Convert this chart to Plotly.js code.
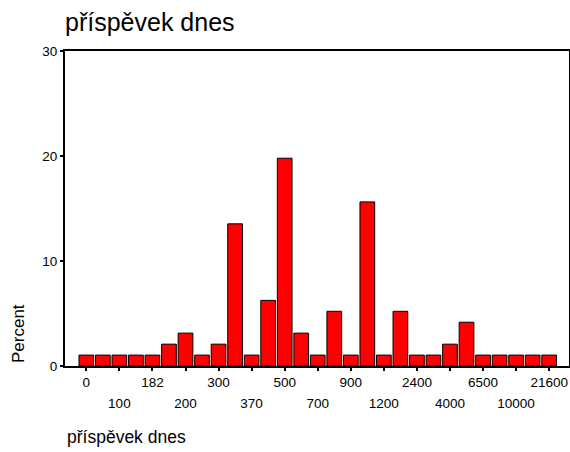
<!DOCTYPE html>
<html>
<head>
<meta charset="utf-8">
<script src="https://cdn.plot.ly/plotly-3.0.1.min.js"></script>
<style>html,body{margin:0;padding:0;background:#fff;}#chart{width:570px;height:452px;}</style>
</head>
<body>
<div id="chart"></div>
<script>
// Categories (values of "příspěvek dnes"); unlabeled ones are estimates
const categories = ["0","50","100","150","182","190","200","250","300","350","370","400","500","600","700","800","900","1000","1200","2000","2400","3000","4000","5000","6500","8000","10000","20000","21600"];
// Percent of cases per category
const percents = [1.04,1.04,1.04,1.04,1.04,2.08,3.13,1.04,2.08,13.54,1.04,6.25,19.79,3.13,1.04,5.21,1.04,15.63,1.04,5.21,1.04,1.04,2.08,4.17,1.04,1.04,1.04,1.04,1.04];
// Tick labels: first row and second row
const tickRow1 = ["0","182","300","500","900","2400","6500","21600"];
const tickRow2 = ["100","200","370","700","1200","4000","10000"];

const row1Vals = tickRow1.slice();
const row2Vals = tickRow2.slice();
const allTickVals = [];
const allTickText = [];
for (let i = 0; i < row1Vals.length; i++) {
  allTickVals.push(row1Vals[i]); allTickText.push(tickRow1[i]);
  if (i < row2Vals.length) { allTickVals.push(row2Vals[i]); allTickText.push(""); }
}

const font = "Liberation Sans, Arial, sans-serif";
const trace = {
  type: "bar", x: categories, y: percents,
  marker: {color: "#FF0000", line: {color: "#000000", width: 1}},
  hoverinfo: "x+y"
};
const trace2 = {
  type: "bar", x: categories, y: percents, xaxis: "x2",
  marker: {color: "rgba(0,0,0,0)"}, hoverinfo: "skip", showlegend: false
};
const xr = [-1.29, 29.2];
const layout = {
  width: 570, height: 452,
  margin: {l: 65, r: 1, t: 51, b: 86},
  paper_bgcolor: "#fff", plot_bgcolor: "#fff",
  showlegend: false, bargap: 0.11,
  font: {family: font, color: "#000"},
  title: {text: "příspěvek dnes", x: 65/570, xanchor: "left", xref: "container",
          y: 1 - 22/452, yanchor: "middle", yref: "container",
          font: {family: font, size: 25, color: "#000"}},
  xaxis: {
    type: "category", categoryorder: "array", categoryarray: categories,
    range: xr, tickmode: "array", tickvals: allTickVals, ticktext: allTickText,
    ticks: "outside", ticklen: 3, tickwidth: 2, tickcolor: "#000",
    showline: true, linecolor: "#000", linewidth: 2, mirror: true,
    showgrid: false, zeroline: false, tickfont: {size: 13.5, family: font},
    fixedrange: true
  },
  xaxis2: {
    type: "category", categoryorder: "array", categoryarray: categories,
    overlaying: "x", side: "bottom", range: xr,
    tickmode: "array", tickvals: row2Vals, ticktext: tickRow2,
    ticks: "", showline: false, showgrid: false, zeroline: false,
    ticklabelstandoff: 27, tickfont: {size: 13.5, family: font}, fixedrange: true
  },
  yaxis: {
    range: [0, 30], tickvals: [0, 10, 20, 30], ticktext: ["0","10","20","30"],
    ticks: "outside", ticklen: 3, tickwidth: 2, tickcolor: "#000",
    showline: true, linecolor: "#000", linewidth: 2, mirror: true,
    showgrid: false, zeroline: false, tickfont: {size: 13.5, family: font},
    fixedrange: true
  },
  annotations: [
    {text: "Percent", xref: "paper", yref: "paper", x: -(65-18)/504, y: (366-334)/315,
     xanchor: "center", yanchor: "middle", textangle: -90, showarrow: false,
     font: {family: font, size: 17, color: "#000"}},
    {text: "příspěvek dnes", xref: "paper", yref: "paper", x: 0, y: -(437-366)/315,
     xanchor: "left", yanchor: "middle", showarrow: false,
     font: {family: font, size: 17.5, color: "#000"}}
  ]
};
Plotly.newPlot("chart", [trace, trace2], layout, {displayModeBar: false, staticPlot: true});
</script>
</body>
</html>
